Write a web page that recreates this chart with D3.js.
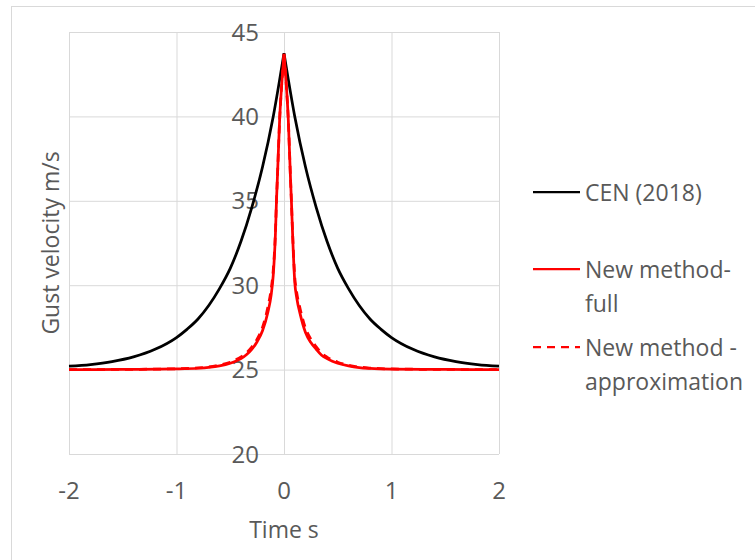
<!DOCTYPE html>
<html>
<head>
<meta charset="utf-8">
<script src="https://cdn.jsdelivr.net/npm/d3@7"></script>
<style>
  body { margin: 0; background: #fff; }
  text { font-family: "Open Sans", sans-serif; fill: #595959; }
</style>
</head>
<body>
<svg id="gustChart" width="755" height="560"></svg>
<script>
//// data
var timeCEN = [-2, -1.8, -1.6, -1.4, -1.2, -1, -0.9, -0.8, -0.7, -0.6, -0.5, -0.4, -0.3, -0.2, -0.1, 0,
               0.1, 0.2, 0.3, 0.4, 0.5, 0.6, 0.7, 0.8, 0.9, 1, 1.2, 1.4, 1.6, 1.8, 2];
var speedCEN = [25.2, 25.3, 25.47, 25.75, 26.2, 26.9, 27.4, 28.0, 28.8, 29.8, 31.0, 32.6, 34.6, 37.0, 40.0, 43.75,
                40.0, 37.0, 34.6, 32.6, 31.0, 29.8, 28.8, 28.0, 27.4, 26.9, 26.2, 25.75, 25.47, 25.3, 25.2];

var timeNew = [-2, -1.5, -1, -0.8, -0.7, -0.6, -0.5, -0.45, -0.4, -0.35, -0.3, -0.25, -0.2, -0.15, -0.12, -0.1,
               -0.08, -0.07, -0.06, -0.04, -0.02, 0, 0.02, 0.04, 0.06, 0.07, 0.08, 0.1, 0.12, 0.15, 0.2, 0.25,
               0.3, 0.35, 0.4, 0.45, 0.5, 0.6, 0.7, 0.8, 1, 1.5, 2];
var speedNewFull = [25.0, 25.01, 25.04, 25.08, 25.13, 25.22, 25.38, 25.5, 25.65, 25.88, 26.2, 26.65, 27.3, 28.4, 29.4, 30.6,
                    33.0, 35.0, 36.6, 39.9, 42.0, 43.7, 42.0, 39.8, 36.4, 34.8, 33.0, 30.2, 29.2, 28.3, 27.2, 26.6,
                    26.2, 25.85, 25.65, 25.5, 25.38, 25.22, 25.12, 25.07, 25.03, 25.01, 25.0];
var speedNewApprox = [25.0, 25.01, 25.05, 25.1, 25.16, 25.27, 25.44, 25.58, 25.75, 25.99, 26.33, 26.8, 27.5, 28.7, 29.75, 30.9,
                      33.1, 35.0, 36.6, 39.9, 42.0, 43.7, 42.0, 39.8, 36.4, 34.8, 33.1, 30.5, 29.5, 28.6, 27.45, 26.8,
                      26.35, 25.97, 25.74, 25.57, 25.44, 25.26, 25.15, 25.09, 25.04, 25.01, 25.0];

var xTicks = [-2, -1, 0, 1, 2];
var yTicks = [20, 25, 30, 35, 40, 45];
var legendLabels = [["CEN (2018)"], ["New method-", "full"], ["New method -", "approximation"]];

//// define parameters
var svg = d3.select("svg#gustChart");

var plot = {left: 69, right: 499, top: 32, bottom: 454};

var x = d3.scaleLinear().domain([-2, 2]).range([plot.left, plot.right]);
var y = d3.scaleLinear().domain([20, 45]).range([plot.bottom, plot.top]);

// chart frame
svg.append("rect")
   .attr("x", 11.5).attr("y", 6.5)
   .attr("width", 800).attr("height", 600)
   .attr("fill", "none")
   .attr("stroke", "#d9d9d9");

// gridlines
svg.append("g")
   .attr("transform", "translate(0," + plot.bottom + ")")
   .call(d3.axisBottom(x).tickValues(xTicks).tickSize(-(plot.bottom - plot.top)).tickFormat(""))
   .call(function(g) { g.select(".domain").remove(); })
   .selectAll("line").attr("stroke", "#d9d9d9");

svg.append("g")
   .attr("transform", "translate(" + plot.left + ",0)")
   .call(d3.axisLeft(y).tickValues(yTicks).tickSize(-(plot.right - plot.left)).tickFormat(""))
   .call(function(g) { g.select(".domain").remove(); })
   .selectAll("line").attr("stroke", "#d9d9d9");

// tick labels: value axis sits at time 0
svg.selectAll("yLabel")
   .data(yTicks)
   .enter().append("text")
   .attr("x", x(0) - 25)
   .attr("y", function(d) { return y(d); })
   .attr("dy", "0.36em")
   .attr("text-anchor", "end")
   .style("font-size", "24px")
   .text(function(d) { return d; });

svg.selectAll("xLabel")
   .data(xTicks)
   .enter().append("text")
   .attr("x", function(d) { return x(d); })
   .attr("y", 499)
   .attr("text-anchor", "middle")
   .style("font-size", "24px")
   .text(function(d) { return d; });

// axis titles
svg.append("text")
   .attr("x", (plot.left + plot.right) / 2)
   .attr("y", 538)
   .attr("text-anchor", "middle")
   .style("font-size", "23px")
   .text("Time s");

svg.append("text")
   .attr("transform", "translate(59," + (plot.top + plot.bottom) / 2 + ") rotate(-90)")
   .attr("text-anchor", "middle")
   .style("font-size", "23px")
   .text("Gust velocity m/s");

// curves: smooth each flank separately so the peak stays a sharp cusp
var line = d3.line()
   .curve(d3.curveMonotoneX)
   .x(function(d) { return x(d[0]); })
   .y(function(d) { return y(d[1]); });

function twoFlanks(pts) {
  var left = pts.filter(function(p) { return p[0] <= 0; });
  var right = pts.filter(function(p) { return p[0] >= 0; });
  return line(left) + line(right);
}

var series = [
  {pts: d3.zip(timeCEN, speedCEN), color: "#000000", dash: null},
  {pts: d3.zip(timeNew, speedNewFull), color: "#ff0000", dash: null},
  {pts: d3.zip(timeNew, speedNewApprox), color: "#ff0000", dash: "8,6"}
];

svg.selectAll("curve")
   .data(series)
   .enter().append("path")
   .attr("d", function(d) { return twoFlanks(d.pts); })
   .attr("fill", "none")
   .attr("stroke", function(d) { return d.color; })
   .attr("stroke-width", 2.75)
   .attr("stroke-linejoin", "round")
   .attr("stroke-dasharray", function(d) { return d.dash; });

// legend
var legendY = [192, 269, 347];

var legend = svg.selectAll("legendItem")
   .data(series)
   .enter().append("g")
   .attr("transform", function(d, i) { return "translate(533," + legendY[i] + ")"; });

legend.append("line")
   .attr("x1", 0).attr("x2", 47)
   .attr("stroke", function(d) { return d.color; })
   .attr("stroke-width", 2.25)
   .attr("stroke-dasharray", function(d) { return d.dash; });

legend.append("text")
   .attr("x", 52)
   .attr("y", 8.5)
   .style("font-size", "23px")
   .selectAll("tspan")
   .data(function(d, i) { return legendLabels[i]; })
   .enter().append("tspan")
   .attr("x", 52)
   .attr("dy", function(d, i) { return i === 0 ? 0 : 34; })
   .text(function(d) { return d; });
</script>
</body>
</html>
